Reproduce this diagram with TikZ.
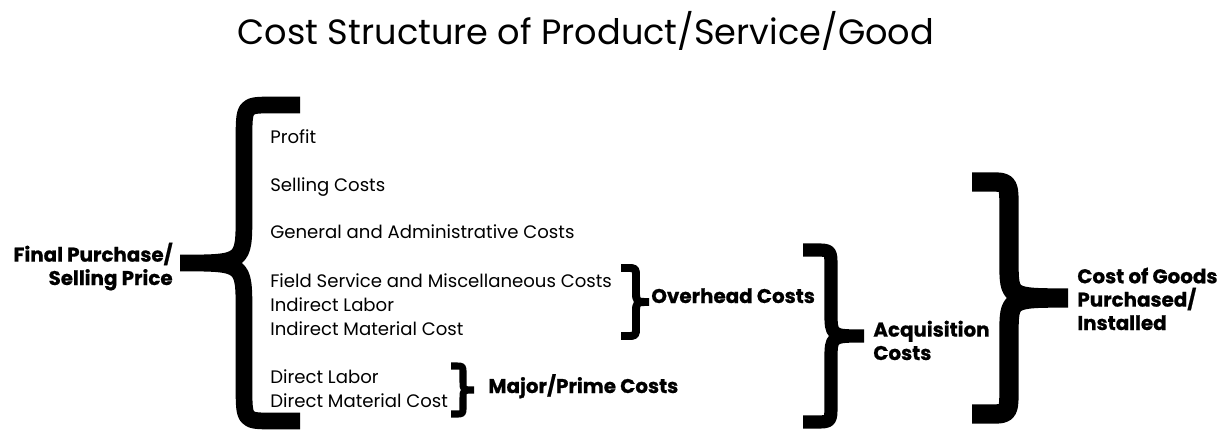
\documentclass[tikz,border=0pt]{standalone}
\usepackage{fontspec}
\setmainfont{Poppins}[BoldFeatures={FakeBold=0.8}]
\usetikzlibrary{positioning,calc}

% curly brace as one thick stroke:
% [opts]{arm x}{bend x}{stem x}{tip x}{top y}{stem top y}{stem bottom y}{mid y}
\newcommand{\curlybrace}[9][]{%
  \pgfmathsetmacro\brA{2*#9-#8}%
  \pgfmathsetmacro\brB{2*#9-#7}%
  \pgfmathsetmacro\brC{2*#9-#6}%
  \draw[bracestroke,#1] (#2,#6) -- (#3,#6) .. controls (#4,#6) .. (#4,#7) -- (#4,#8) .. controls (#4,#9) .. (#5,#9)
    (#5,#9) .. controls (#4,#9) .. (#4,\brA) -- (#4,\brB) .. controls (#4,\brC) .. (#3,\brC) -- (#2,\brC);
}

\begin{document}
\begin{tikzpicture}[
    x=0.02cm, y=-0.02cm,
    % Styles
    costitem/.style={anchor=base west, inner sep=0pt, font=\fontsize{10.3}{12}\selectfont},
    sumlabel/.style={inner sep=0pt, font=\fontsize{11.3}{13.3}\selectfont\bfseries},
    bracestroke/.style={line cap=butt, line join=round}
]
\useasboundingbox (0,0) rectangle (1229,429);

% --- Title ---
\node[anchor=base, inner sep=0pt, font=\fontsize{20}{24}\selectfont] (title) at (586,45) {Cost Structure of Product/Service/Good};

% --- Cost items ---
\foreach \nm/\yy/\txt in {profit/143/Profit, selling/191/Selling Costs,
    general/238/General and Administrative Costs, field/287/Field Service and Miscellaneous Costs,
    indlabor/311/Indirect Labor, indmat/335/Indirect Material Cost,
    dirlabor/383/Direct Labor, dirmat/407/Direct Material Cost}
  \node[costitem] (\nm) at (270,\yy) {\txt};

% --- Braces ---
\curlybrace[line width=9.5pt]{300}{272}{244}{180}{105}{140}{215}{263}
\curlybrace[line width=4.5pt]{621}{627}{636}{649}{268}{277}{291}{302}
\curlybrace[line width=4pt]{451}{456}{463}{474}{366}{373}{382}{390}
\curlybrace[line width=7.5pt]{803}{815}{831}{864}{250}{268}{312}{336}
\curlybrace[line width=11pt]{972}{990}{1009}{1068}{182}{210}{262}{298}

% --- Group labels ---
\node[sumlabel, anchor=base east, align=right] (price) at (173,285) {Final Purchase/\\Selling Price};
\node[sumlabel, anchor=base west] (overhead) at (651,303) {Overhead Costs};
\node[sumlabel, anchor=base west] (prime) at (488,393) {Major/Prime Costs};
\node[sumlabel, anchor=base west, align=left] (acq) at (873,360) {Acquisition\\Costs};
\node[sumlabel, anchor=base west, align=left] (cogs) at (1077,330) {Cost of Goods\\Purchased/\\Installed};

\end{tikzpicture}
\end{document}
